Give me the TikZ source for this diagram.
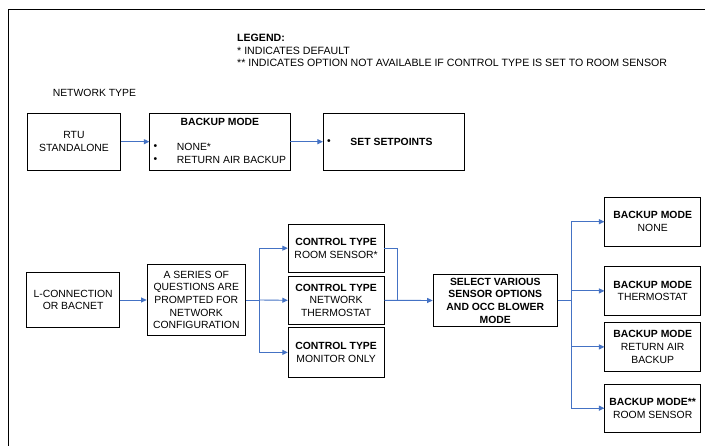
\documentclass[tikz,border=0pt]{standalone}
\usepackage{fontspec}
\setmainfont{Liberation Sans}
\usetikzlibrary{arrows.meta}
\definecolor{arrblue}{HTML}{4472C4}
\tikzset{
  txt/.style={font=\fontsize{10.4}{12.7}\selectfont, inner sep=0pt},
  legtxt/.style={font=\fontsize{10.6}{12.7}\selectfont, inner sep=0pt},
  box/.style={draw=black, line width=0.8pt, align=center, inner sep=0pt,
    font=\fontsize{10.4}{12.7}\selectfont},
  arr/.style={draw=arrblue, line width=0.9pt, -{Triangle[length=5.5pt,width=5pt]}},
  conn/.style={draw=arrblue, line width=0.9pt},
}
\begin{document}
\begin{tikzpicture}[x=1pt,y=-1pt]
\clip (0,0) rectangle (705,446);
\fill[white] (0,0) rectangle (705,446);
\draw[line width=0.9pt] (8.1,9.3) rectangle (720,460);

% legend
\node[legtxt, anchor=west] (leg1) at (237,38.3) {\textbf{LEGEND:}};
\node[legtxt, anchor=west] (leg2) at (237,51) {* INDICATES DEFAULT};
\node[legtxt, anchor=west] (leg3) at (237,63.3) {** INDICATES OPTION NOT AVAILABLE IF CONTROL TYPE IS SET TO ROOM SENSOR};
\node[txt, anchor=west] (nt) at (52.6,93) {NETWORK TYPE};

% top row
\node[box, minimum width=93.1pt, minimum height=56.7pt] (rtu) at (74,141.7) {RTU\\STANDALONE};
\node[box, minimum width=140.3pt, minimum height=56.7pt] (bm1) at (219.9,141.7) {};
\node[txt] (bm1t) at (219.9,122.3) {\textbf{BACKUP MODE}};
\node[txt] (bm1b1) at (155.5,147) {•};
\node[txt] (bm1b2) at (155.5,160.3) {•};
\node[txt, anchor=west] (bm1l1) at (176.7,147) {NONE*};
\node[txt, anchor=west] (bm1l2) at (176.7,160.3) {RETURN AIR BACKUP};
\node[box, minimum width=140.7pt, minimum height=56.7pt] (ssp) at (393.7,141.7) {};
\node[txt] (sspb) at (329,142) {•};
\node[txt] (sspt) at (391.5,142) {\textbf{SET SETPOINTS}};

\draw[arr] (rtu.east) -- (bm1.west);
\draw[arr] (bm1.east) -- (ssp.west);

% bottom flow
\node[box, minimum width=93.1pt, minimum height=55.4pt] (lconn) at (73.1,300) {L-CONNECTION\\OR BACNET};
\node[box, minimum width=98.5pt, minimum height=71.4pt] (series) at (196.3,300) {A SERIES OF\\QUESTIONS ARE\\PROMPTED FOR\\NETWORK\\CONFIGURATION};

\node[box, minimum width=95.8pt, minimum height=48.3pt] (ctrs) at (336.1,248.2) {\textbf{CONTROL TYPE}\\ROOM SENSOR*};
\node[box, minimum width=95.8pt, minimum height=48pt] (ctnt) at (336.1,300.3) {\textbf{CONTROL TYPE}\\NETWORK\\THERMOSTAT};
\node[box, minimum width=95.8pt, minimum height=49.3pt] (ctmo) at (336.1,352.4) {\textbf{CONTROL TYPE}\\MONITOR ONLY};

\node[box, minimum width=124.5pt, minimum height=52.4pt] (sel) at (495.3,300.5) {\textbf{SELECT VARIOUS}\\\textbf{SENSOR OPTIONS}\\\textbf{AND OCC BLOWER}\\\textbf{MODE}};

\node[box, minimum width=95.7pt, minimum height=48.7pt] (bmn) at (652.7,221.7) {\textbf{BACKUP MODE}\\NONE};
\node[box, minimum width=95.7pt, minimum height=48.3pt] (bmt) at (652.7,290.9) {\textbf{BACKUP MODE}\\THERMOSTAT};
\node[box, minimum width=95.7pt, minimum height=48.3pt] (bmr) at (652.7,346.9) {\textbf{BACKUP MODE}\\RETURN AIR\\BACKUP};
\node[box, minimum width=95.7pt, minimum height=48.3pt] (bmrs) at (652.7,408.2) {\textbf{BACKUP MODE**}\\ROOM SENSOR};

\coordinate (b1) at (259.4,300);
\coordinate (m1) at (397.5,300.5);
\coordinate (b2) at (571.5,300.5);

\draw[arr] (lconn.east) -- (series.west);
\draw[conn] (series.east) -- (b1);
\draw[arr] (b1) |- (ctrs.west);
\draw[arr] (b1) -- (ctnt.west);
\draw[arr] (b1) |- (ctmo.west);

\draw[conn] (ctrs.east) -| (m1);
\draw[arr] (ctnt.east) -- (sel.west);

\draw[conn] (sel.east) -- (b2);
\draw[arr] (b2) |- (bmn.west);
\draw[arr] (b2) |- (bmt.west);
\draw[arr] (b2) |- (bmr.west);
\draw[arr] (b2) |- (bmrs.west);
\end{tikzpicture}
\end{document}
